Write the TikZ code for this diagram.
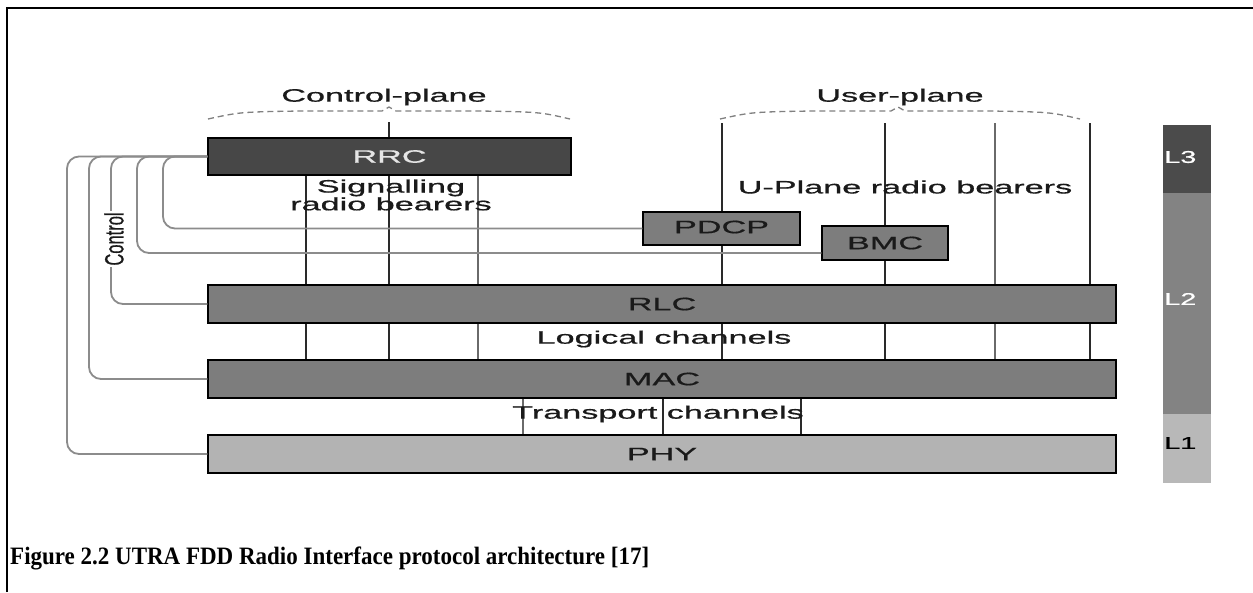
\documentclass[tikz,border=0pt]{standalone}
\usepackage{graphicx}
\usepackage{fontspec}
\newfontfamily\diagfont{Liberation Sans}[FakeBold=0.6]
\newfontfamily\capfont{Liberation Serif}
\usetikzlibrary{calc}

\definecolor{rrcfill}{HTML}{474747}
\definecolor{l2fill}{HTML}{7D7D7D}
\definecolor{phyfill}{HTML}{B3B3B3}
\definecolor{lthree}{HTML}{4B4B4B}
\definecolor{ltwo}{HTML}{838383}
\definecolor{lone}{HTML}{B8B8B8}
\definecolor{ctrlgray}{HTML}{8C8C8C}
\definecolor{darkline}{HTML}{2A2A2A}
\definecolor{midline}{HTML}{6A6A6A}
\definecolor{labeltext}{HTML}{1A1A1A}

% horizontally widened sans labels
\newcommand\wide[1]{\scalebox{1.9}[1]{#1}}
\newcommand\lvl[1]{\scalebox{1.7}[1]{#1}}

\tikzset{
  layerbox/.style={draw=black, line width=1.5pt, inner sep=0pt},
  lbl/.style={font=\diagfont\fontsize{18}{16.5}\selectfont, text=labeltext, inner sep=0pt},
  lvllbl/.style={font=\diagfont\fontsize{17}{17}\selectfont, anchor=west, inner sep=0pt},
  bearer/.style={draw=darkline, line width=1.6pt},
  bearerlight/.style={draw=midline, line width=1.6pt},
  ctrl/.style={draw=ctrlgray, line width=1.8pt, rounded corners=12pt},
  brace/.style={draw=gray, line width=1.3pt, dash pattern=on 6pt off 4pt},
}

\begin{document}
\begin{tikzpicture}[x=1pt,y=-1pt]
\useasboundingbox (0,0) rectangle (1253,592);
\fill[white] (0,0) rectangle (1253,592);

% page frame
\draw[line width=2.5pt] (7,592) -- (7,8) -- (1253,8);

% plane braces and titles
\node[lbl] (cplane) at (384,97) {\wide{Control-plane}};
\node[lbl] (uplane) at (900,97) {\wide{User-plane}};
\draw[brace] (208,119) .. controls (240,112) .. (300,111) -- (382,111) -- (389,107)
  -- (396,111) -- (480,111) .. controls (540,112) .. (570,119);
\draw[brace] (720,119) .. controls (752,112) .. (812,111) -- (891,111) -- (898,107)
  -- (905,111) -- (990,111) .. controls (1050,112) .. (1080,119);

% layer boxes
\node[layerbox, fill=rrcfill, minimum width=363pt, minimum height=37pt] (rrc) at (389.5,156.5) {};
\node[layerbox, fill=l2fill, minimum width=908pt, minimum height=38pt] (rlc) at (662,304) {};
\node[layerbox, fill=l2fill, minimum width=908pt, minimum height=38pt] (mac) at (662,379) {};
\node[layerbox, fill=phyfill, minimum width=908pt, minimum height=38pt] (phy) at (662,454) {};

% bearer positions
\coordinate (s1) at (306,0);
\coordinate (s2) at (389,0);
\coordinate (s3) at (478,0);
\coordinate (u1) at (722,123);
\coordinate (u2) at (885,123);
\coordinate (u3) at (995,123);
\coordinate (u4) at (1090,123);
\coordinate (t1) at (523,0);
\coordinate (t2) at (663,0);
\coordinate (t3) at (801,0);
\coordinate (ctop) at (389,122);

% signalling radio bearers and logical channels
\draw[bearer] (ctop) -- (ctop |- rrc.north);
\draw[bearer] (s1 |- rrc.south) -- (s1 |- rlc.north);
\draw[bearer] (s2 |- rrc.south) -- (s2 |- rlc.north);
\draw[bearerlight] (s3 |- rrc.south) -- (s3 |- rlc.north);
\draw[bearer] (s1 |- rlc.south) -- (s1 |- mac.north);
\draw[bearer] (s2 |- rlc.south) -- (s2 |- mac.north);
\draw[bearerlight] (s3 |- rlc.south) -- (s3 |- mac.north);

% user-plane radio bearers
\draw[bearer] (u1) -- (u1 |- rlc.north);
\draw[bearer] (u2) -- (u2 |- rlc.north);
\draw[bearerlight] (u3) -- (u3 |- rlc.north);
\draw[bearer] (u4) -- (u4 |- rlc.north);
\draw[bearer] (u1 |- rlc.south) -- (u1 |- mac.north);
\draw[bearer] (u2 |- rlc.south) -- (u2 |- mac.north);
\draw[bearerlight] (u3 |- rlc.south) -- (u3 |- mac.north);
\draw[bearer] (u4 |- rlc.south) -- (u4 |- mac.north);

% transport channels
\draw[bearerlight] (t1 |- mac.south) -- (t1 |- phy.north);
\draw[bearer] (t2 |- mac.south) -- (t2 |- phy.north);
\draw[bearer] (t3 |- mac.south) -- (t3 |- phy.north);

% PDCP and BMC
\node[layerbox, fill=l2fill, minimum width=157pt, minimum height=33pt] (pdcp) at (721.5,228.5) {};
\node[layerbox, fill=l2fill, minimum width=126pt, minimum height=34pt] (bmc) at (885,243) {};

% control interfaces from RRC
\coordinate (c1) at (163,0);
\coordinate (c2) at (137,0);
\coordinate (c3) at (111,0);
\coordinate (c4) at (89,0);
\coordinate (c5) at (67,0);
\coordinate (bmcin) at ([yshift=-10pt]bmc.west);
\draw[ctrl] (rrc.west) -| (c5 |- phy.west) -- (phy.west);
\draw[ctrl] (rrc.west) -| (c4 |- mac.west) -- (mac.west);
\draw[ctrl] (rrc.west) -| (c3 |- rlc.west) -- (rlc.west);
\draw[ctrl] (rrc.west) -| (c2 |- bmcin) -- (bmcin);
\draw[ctrl] (rrc.west) -| (c1 |- pdcp.west) -- (pdcp.west);
\node[font=\diagfont\fontsize{16.5}{16.5}\selectfont, text=labeltext, fill=white, inner sep=1pt, rotate=90]
  (ctrllbl) at (114,239) {\scalebox{1}[1.6]{Control}};

% box labels
\node[lbl, text=white!90!black] at (rrc.center) {\wide{RRC}};
\node[lbl] at (rlc.center) {\wide{RLC}};
\node[lbl] at (mac.center) {\wide{MAC}};
\node[lbl] at (phy.center) {\wide{PHY}};
\node[lbl] at ([yshift=1.5pt]pdcp.center) {\wide{PDCP}};
\node[lbl] at (bmc.center) {\wide{BMC}};

% channel labels
\node[lbl, align=center] (srb) at (391,195) {\wide{Signalling}\\\wide{radio bearers}};
\node[lbl] (upr) at (905,187) {\wide{U-Plane radio bearers}};
\node[lbl] (logch) at (664,339) {\wide{Logical channels}};
\node[lbl] (trch) at (658,414) {\wide{Transport channels}};

% protocol layer column
\fill[lthree] (1163,125) rectangle (1211,193);
\fill[ltwo] (1163,193) rectangle (1211,414);
\fill[lone] (1163,414) rectangle (1211,483);
\node[lvllbl, text=white] (l3) at (1164,157) {\lvl{L3}};
\node[lvllbl, text=white] (l2) at (1164,299) {\lvl{L2}};
\node[lvllbl, text=black] (l1) at (1164,443) {\lvl{L1}};

% caption
\node[font=\capfont\bfseries\fontsize{25}{25}\selectfont, anchor=base west, inner sep=0pt]
  (cap) at (10,564) {\scalebox{0.92}[1]{Figure 2.2 UTRA FDD Radio Interface protocol architecture [17]}};
\end{tikzpicture}
\end{document}
